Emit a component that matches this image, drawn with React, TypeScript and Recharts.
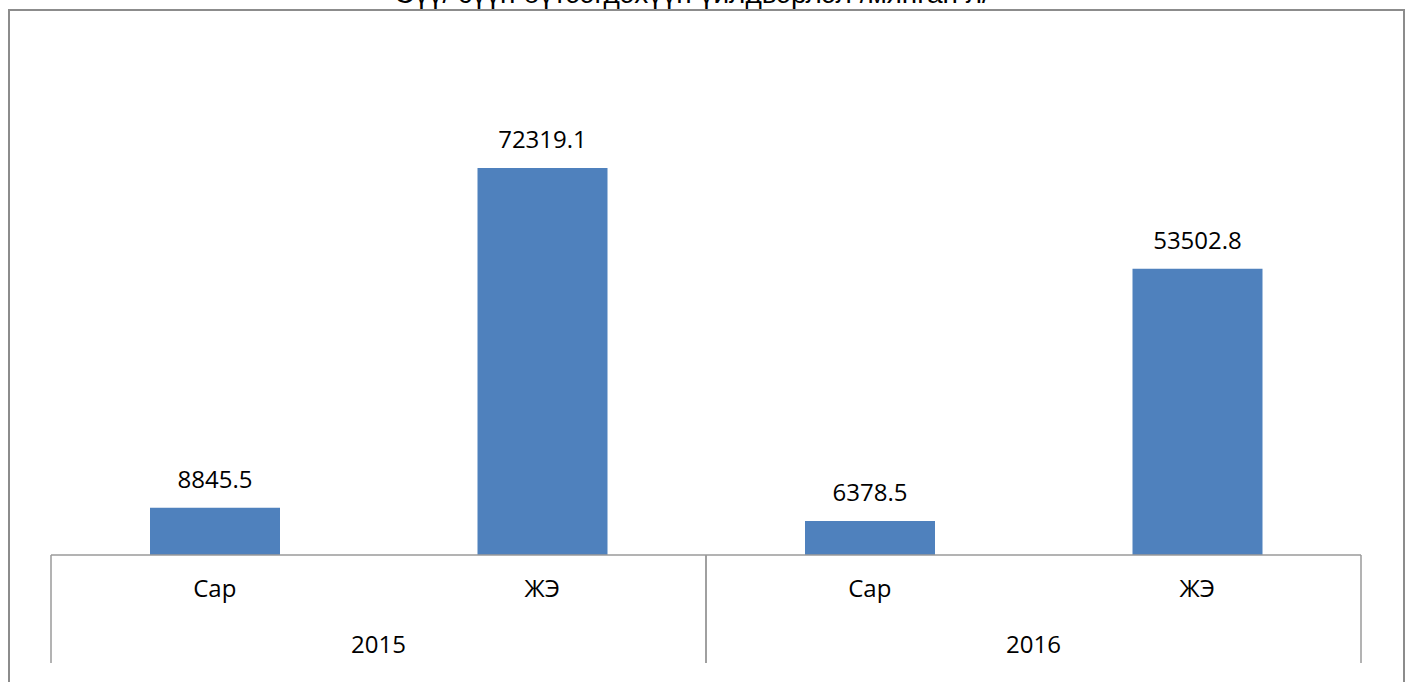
import React from "react";
import { BarChart, Bar, XAxis, YAxis, LabelList } from "recharts";

// ─── Data ─────────────────────────────────────────────────────────────────────

const periods = ["Сар", "ЖЭ", "Сар", "ЖЭ"];
const years = ["2015", "2015", "2016", "2016"];
const production = [8845.5, 72319.1, 6378.5, 53502.8];

const TITLE = "Сүү/ сүүн бүтээгдэхүүн үйлдвэрлэл /мянган л/";

const data = periods.map((period, i) => ({
  period,
  year: years[i],
  value: production[i],
}));

// ─── Styles ───────────────────────────────────────────────────────────────────

const FONT = "'Open Sans', 'Noto Sans', sans-serif";
const BAR_COLOR = "#4F81BD";
const AXIS_COLOR = "#9a9a9a";
const FIRST_AXIS_H = 55;

if (typeof document !== "undefined") document.body.style.margin = "0";

function PeriodTick(props: any) {
  const { x, y, payload } = props;
  return (
    <text x={x} y={y + 42} textAnchor="middle" fontFamily={FONT} fontSize={24} fill="#000">
      {payload.value}
    </text>
  );
}

// year label plus the group separators at both edges of the band
function YearTick(props: any) {
  const { x, y, payload, width, visibleTicksCount } = props;
  const half = width / visibleTicksCount / 2;
  const top = y - FIRST_AXIS_H;
  const bottom = y + 53;
  return (
    <g>
      <line x1={x - half} x2={x - half} y1={top} y2={bottom} stroke={AXIS_COLOR} strokeWidth={1.5} />
      <line x1={x + half} x2={x + half} y1={top} y2={bottom} stroke={AXIS_COLOR} strokeWidth={1.5} />
      <text x={x} y={y + 43} textAnchor="middle" fontFamily={FONT} fontSize={24} fill="#000">
        {payload.value}
      </text>
    </g>
  );
}

export default function App() {
  return (
    <div style={{ position: "relative", width: 1411, height: 682, overflow: "hidden", background: "#fff" }}>
      <div
        style={{
          position: "absolute",
          left: 8,
          top: 9,
          width: 1393,
          height: 720,
          border: "2px solid #8c8c8c",
          borderBottom: "none",
        }}
      />
      {/* the title sits above the frame and is clipped by the top edge, as in the source */}
      <div
        style={{
          position: "absolute",
          left: 0,
          width: 1384,
          top: -22,
          textAlign: "center",
          fontFamily: "'Liberation Sans', Arial, sans-serif",
          fontSize: 28,
          lineHeight: "32px",
          color: "#000",
          whiteSpace: "nowrap",
        }}
      >
        {TITLE}
      </div>
      <div style={{ position: "absolute", left: 0, top: 0 }}>
        <BarChart
          width={1411}
          height={682}
          data={data}
          margin={{ top: 127, right: 50, bottom: 17, left: 51 }}
          barCategoryGap={0}
        >
          <XAxis
            dataKey="period"
            height={FIRST_AXIS_H}
            tick={<PeriodTick />}
            tickLine={false}
            tickSize={0}
            tickMargin={0}
            interval={0}
            axisLine={{ stroke: AXIS_COLOR, strokeWidth: 1.5 }}
          />
          <XAxis
            xAxisId="year"
            dataKey="year"
            allowDuplicatedCategory={false}
            height={55}
            tick={<YearTick />}
            tickLine={false}
            tickSize={0}
            tickMargin={0}
            interval={0}
            axisLine={false}
          />
          <YAxis hide domain={[0, 80000]} />
          <Bar dataKey="value" fill={BAR_COLOR} barSize={130} isAnimationActive={false}>
            <LabelList
              dataKey="value"
              position="top"
              offset={20}
              style={{ fontFamily: FONT, fontSize: 24, fill: "#000" }}
            />
          </Bar>
        </BarChart>
      </div>
    </div>
  );
}
